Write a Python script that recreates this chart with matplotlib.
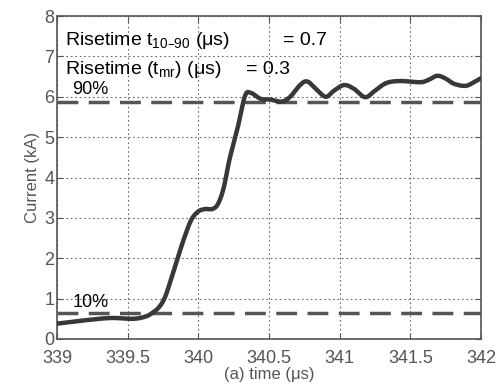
import matplotlib
matplotlib.use("Agg")
import matplotlib.pyplot as plt
import numpy as np

plt.rcParams['font.family'] = ['Liberation Sans', 'DejaVu Sans']

time_us = [339.0, 339.19, 339.38, 339.54, 339.63, 339.68, 339.72, 339.76, 339.80, 339.85, 339.90,
           339.95, 340.0, 340.05, 340.10, 340.14, 340.18, 340.22, 340.28, 340.33, 340.37, 340.44, 340.51,
           340.59, 340.65, 340.72, 340.77, 340.83, 340.9, 340.96, 341.03, 341.1, 341.18,
           341.25, 341.33, 341.43, 341.57, 341.63, 341.69, 341.75, 341.81, 341.89, 341.95, 342.0]
current_kA = [0.38, 0.46, 0.52, 0.50, 0.56, 0.66, 0.78, 1.00, 1.40, 1.96, 2.50,
              2.95, 3.16, 3.22, 3.22, 3.35, 3.75, 4.44, 5.26, 6.02, 6.10, 5.95, 5.93,
              5.88, 6.0, 6.29, 6.38, 6.2, 6.0, 6.15, 6.29, 6.2, 5.99,
              6.15, 6.34, 6.39, 6.36, 6.42, 6.52, 6.45, 6.32, 6.27, 6.36, 6.46]
level_10 = 0.65
level_90 = 5.87
xticks = [339, 339.5, 340, 340.5, 341, 341.5, 342]
xticklabels = ['339', '339.5', '340', '340.5', '341', '341.5', '342']
yticks = [0, 1, 2, 3, 4, 5, 6, 7, 8]

gray = '#555555'
fig = plt.figure(figsize=(5.02, 3.86), dpi=100)
ax = fig.add_axes([0.1135, 0.1218, 0.8447, 0.8367])

t = np.array(time_us); v = np.array(current_kA)

def catmull(x, y, n=12):
    xs, ys = [], []
    px = np.concatenate([[x[0]], x, [x[-1]]])
    py = np.concatenate([[y[0]], y, [y[-1]]])
    for i in range(1, len(px) - 2):
        for s in np.linspace(0, 1, n, endpoint=False):
            s2, s3 = s*s, s*s*s
            def f(p):
                return 0.5*((2*p[i]) + (-p[i-1]+p[i+1])*s + (2*p[i-1]-5*p[i]+4*p[i+1]-p[i+2])*s2 + (-p[i-1]+3*p[i]-3*p[i+1]+p[i+2])*s3)
            xs.append(f(px)); ys.append(f(py))
    xs.append(x[-1]); ys.append(y[-1])
    return np.array(xs), np.array(ys)
sx, sy = catmull(t, v)

ax.axhline(level_10, color=gray, lw=2.5, ls=(0, (6, 3)), zorder=2)
ax.axhline(level_90, color=gray, lw=2.5, ls=(0, (6, 3)), zorder=2)
ax.plot(sx, sy, color='#383838', lw=3.2, zorder=3, solid_capstyle='round')

ax.set_xlim(339, 342)
ax.set_ylim(0, 8)
ax.set_xticks(xticks)
ax.set_xticklabels(xticklabels)
ax.set_yticks(yticks)
ax.grid(True, ls=(0, (1.5, 2.5)), color='#666666', lw=0.8)
ax.tick_params(direction='in', top=True, right=True, labelsize=13, colors=gray, length=4)
ax.tick_params(axis='x', pad=8)
ax.tick_params(axis='y', pad=2)
for sp in ax.spines.values():
    sp.set_color(gray)
    sp.set_linewidth(1.2)

ax.set_xlabel('(a) time (\u03bcs)', fontsize=12, color=gray, labelpad=0)
ax.set_ylabel('Current (kA)', fontsize=12, color=gray, labelpad=3)

ax.text(339.06, 7.4, 'Risetime t$_{\\mathregular{10\u201390}}$ (\u03bcs)', fontsize=14, va='center', ha='left')
ax.text(340.6, 7.4, '= 0.7', fontsize=14, va='center', ha='left')
ax.text(339.06, 6.68, 'Risetime (t$_{\\mathregular{mr}}$) (\u03bcs)', fontsize=14, va='center', ha='left')
ax.text(340.34, 6.68, '= 0.3', fontsize=14, va='center', ha='left')
ax.text(339.11, 5.97, '90%', fontsize=13, va='bottom', ha='left')
ax.text(339.11, 0.7, '10%', fontsize=13, va='bottom', ha='left')

fig.savefig('out.png', dpi=100)
